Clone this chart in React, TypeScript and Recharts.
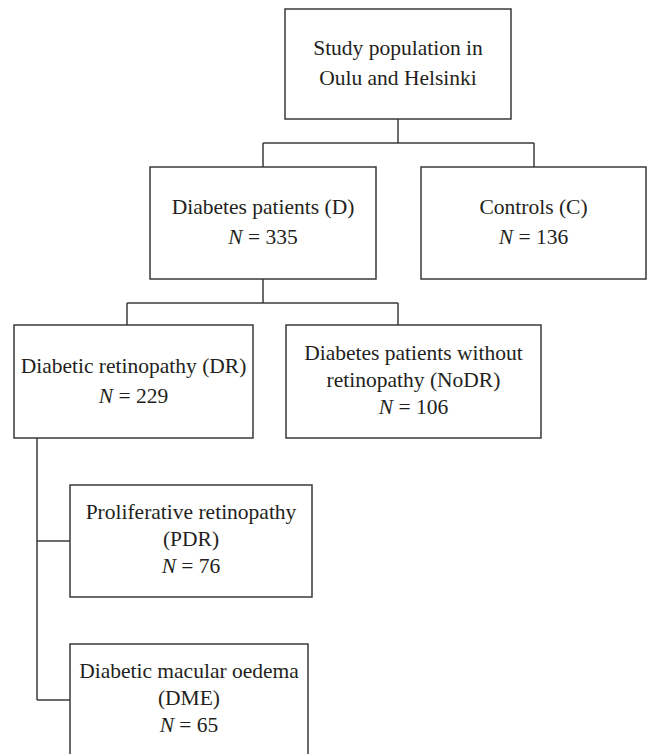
import { ScatterChart, Scatter, XAxis, YAxis, ReferenceArea, ReferenceLine } from 'recharts';

// flowchart content
const nodeTitles: string[][] = [
  ['Study population in', 'Oulu and Helsinki'],
  ['Diabetes patients (D)'],
  ['Controls (C)'],
  ['Diabetic retinopathy (DR)'],
  ['Diabetes patients without', 'retinopathy (NoDR)'],
  ['Proliferative retinopathy', '(PDR)'],
  ['Diabetic macular oedema', '(DME)'],
];
const nodeCounts: (number | null)[] = [null, 335, 136, 229, 106, 76, 65];

// layout (chart units = px, origin top-left)
const W = 647;
const H = 754;
const boxes = [
  { x1: 285, x2: 511, y1: 9, y2: 119 },
  { x1: 150, x2: 376, y1: 167, y2: 279 },
  { x1: 421, x2: 646, y1: 167, y2: 279 },
  { x1: 14, x2: 253, y1: 325, y2: 438 },
  { x1: 286, x2: 541, y1: 325, y2: 438 },
  { x1: 70, x2: 312, y1: 485, y2: 597 },
  { x1: 70, x2: 308, y1: 644, y2: 756 },
];
const links: [number, number, number, number][] = [
  [398, 119, 398, 143],
  [263, 143, 534, 143],
  [263, 143, 263, 167],
  [534, 143, 534, 167],
  [263, 279, 263, 303],
  [127, 303, 398, 303],
  [127, 303, 127, 325],
  [398, 303, 398, 325],
  [37, 438, 37, 700],
  [37, 541, 70, 541],
  [37, 700, 70, 700],
];

const INK = '#231f20';
const LINE = '#3a3a3a';
const FONT = '"Liberation Serif", "Times New Roman", serif';

const textPoints = nodeTitles.map((lines, i) => ({
  x: (boxes[i].x1 + boxes[i].x2) / 2,
  y: (boxes[i].y1 + boxes[i].y2) / 2,
  lines,
  n: nodeCounts[i],
}));

function NodeText(props: any) {
  const { cx, cy, payload } = props;
  const rows: (string | number)[] = [...payload.lines];
  if (payload.n != null) rows.push(payload.n);
  const gap = rows.length > 2 ? 27 : 30;
  const start = cy - ((rows.length - 1) * gap) / 2 + (rows.length > 2 ? 5 : 6);
  return (
    <g>
      {rows.map((r, k) => (
        <text
          key={k}
          x={cx}
          y={start + k * gap}
          textAnchor="middle"
          fill={INK}
          fontFamily={FONT}
          fontSize={21.5}
        >
          {typeof r === 'number' ? (
            <>
              <tspan fontStyle="italic">N</tspan>
              <tspan>{` = ${r}`}</tspan>
            </>
          ) : (
            r
          )}
        </text>
      ))}
    </g>
  );
}

export default function App() {
  return (
    <div style={{ position: 'absolute', left: 0, top: 0, background: '#fff' }}>
      <ScatterChart width={W} height={H} margin={{ top: 0, right: 0, bottom: 0, left: 0 }}>
        <XAxis type="number" dataKey="x" domain={[0, W]} hide allowDataOverflow />
        <YAxis type="number" dataKey="y" domain={[0, H]} reversed hide allowDataOverflow />
        {boxes.map((b, i) => (
          <ReferenceArea
            key={`b${i}`}
            x1={b.x1}
            x2={b.x2}
            y1={b.y1}
            y2={b.y2}
            fill="none"
            stroke={LINE}
            strokeWidth={1.5}
            ifOverflow="visible"
          />
        ))}
        {links.map((l, i) => (
          <ReferenceLine
            key={`l${i}`}
            segment={[
              { x: l[0], y: l[1] },
              { x: l[2], y: l[3] },
            ]}
            stroke={LINE}
            strokeWidth={1.5}
            ifOverflow="visible"
          />
        ))}
        <Scatter data={textPoints} shape={NodeText} isAnimationActive={false} />
      </ScatterChart>
    </div>
  );
}
